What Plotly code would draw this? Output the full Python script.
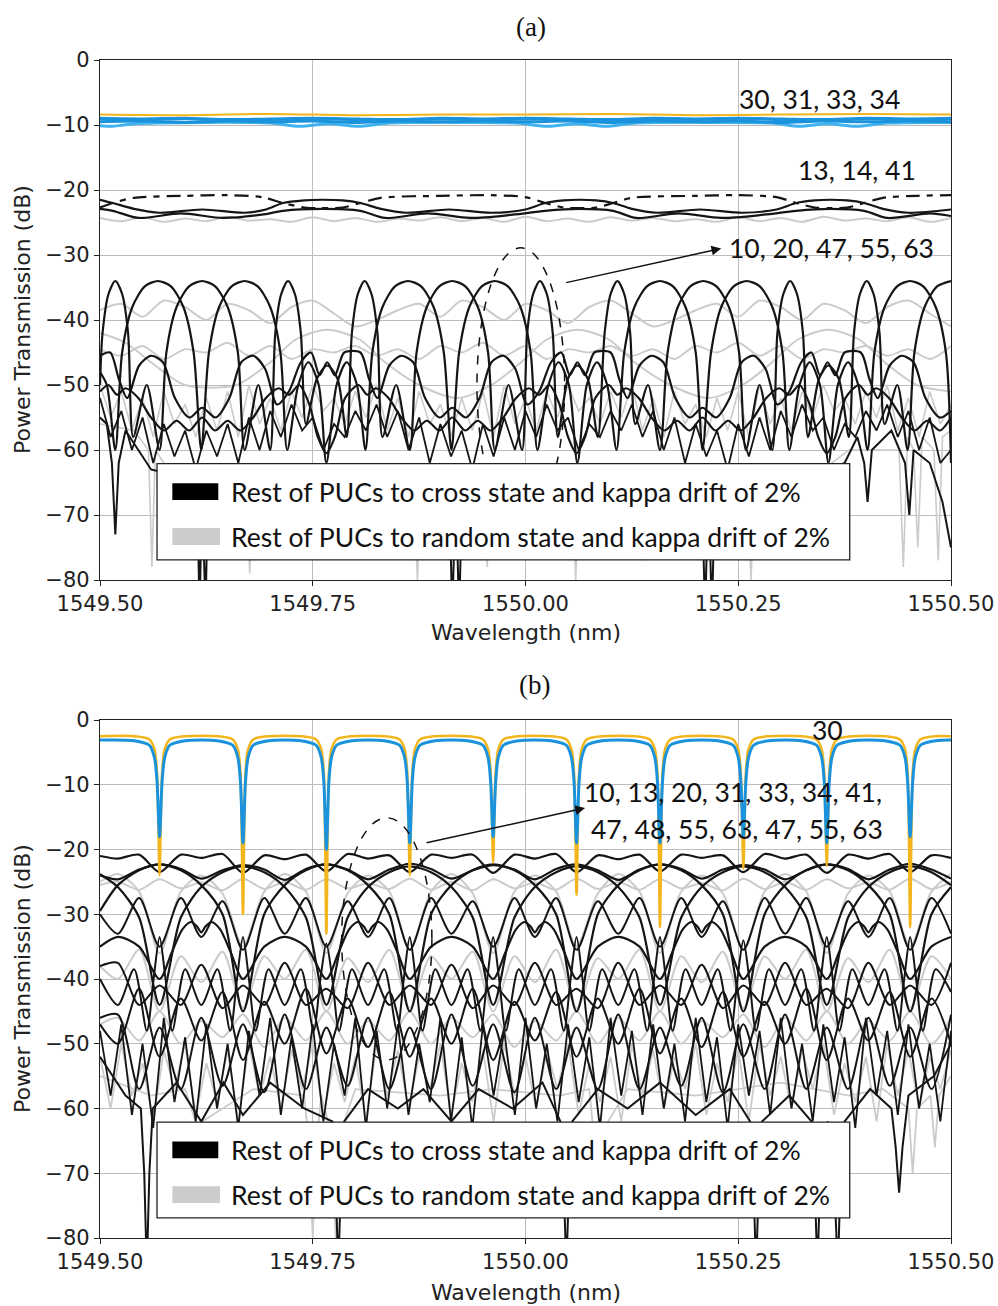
import plotly.graph_objects as go

# ---------------- shared wavelength grids (nm) ----------------
WL_Q_A = [1549.500, 1549.525, 1549.550, 1549.575, 1549.600, 1549.625, 1549.650, 1549.675, 1549.700, 1549.725,
          1549.750, 1549.775, 1549.800, 1549.825, 1549.850, 1549.875, 1549.900, 1549.925, 1549.950, 1549.975,
          1550.000, 1550.025, 1550.050, 1550.075, 1550.100, 1550.125, 1550.150, 1550.175, 1550.200, 1550.225,
          1550.250, 1550.275, 1550.300, 1550.325, 1550.350, 1550.375, 1550.400, 1550.425, 1550.450, 1550.475,
          1550.500]

WL_FINE = [1549.5000, 1549.5125, 1549.5250, 1549.5375, 1549.5500, 1549.5625, 1549.5750, 1549.5875, 1549.6000, 1549.6125,
           1549.6250, 1549.6375, 1549.6500, 1549.6625, 1549.6750, 1549.6875, 1549.7000, 1549.7125, 1549.7250, 1549.7375,
           1549.7500, 1549.7625, 1549.7750, 1549.7875, 1549.8000, 1549.8125, 1549.8250, 1549.8375, 1549.8500, 1549.8625,
           1549.8750, 1549.8875, 1549.9000, 1549.9125, 1549.9250, 1549.9375, 1549.9500, 1549.9625, 1549.9750, 1549.9875,
           1550.0000, 1550.0125, 1550.0250, 1550.0375, 1550.0500, 1550.0625, 1550.0750, 1550.0875, 1550.1000, 1550.1125,
           1550.1250, 1550.1375, 1550.1500, 1550.1625, 1550.1750, 1550.1875, 1550.2000, 1550.2125, 1550.2250, 1550.2375,
           1550.2500, 1550.2625, 1550.2750, 1550.2875, 1550.3000, 1550.3125, 1550.3250, 1550.3375, 1550.3500, 1550.3625,
           1550.3750, 1550.3875, 1550.4000, 1550.4125, 1550.4250, 1550.4375, 1550.4500, 1550.4625, 1550.4750, 1550.4875,
           1550.5000]

WL_Q_B = [1549.500,
          1549.521, 1549.546, 1549.570, 1549.595, 1549.619, 1549.644, 1549.668, 1549.693,
          1549.717, 1549.742, 1549.766, 1549.791, 1549.815, 1549.840, 1549.864, 1549.889,
          1549.913, 1549.938, 1549.962, 1549.987, 1550.011, 1550.036, 1550.060, 1550.085,
          1550.109, 1550.134, 1550.158, 1550.183, 1550.207, 1550.232, 1550.256, 1550.281,
          1550.305, 1550.330, 1550.354, 1550.379, 1550.403, 1550.428, 1550.452, 1550.477,
          1550.500]

X_TICKS = [1549.50, 1549.75, 1550.00, 1550.25, 1550.50]
Y_TICKS = [0, -10, -20, -30, -40, -50, -60, -70, -80]

# ---------------- panel (a) ----------------
A_YEL_X = [1549.50, 1549.60, 1549.70, 1549.80, 1549.90, 1550.00, 1550.10, 1550.20, 1550.30, 1550.40, 1550.50]
A_YEL = [-8.4, -8.5, -8.3, -8.5, -8.4, -8.4, -8.3, -8.5, -8.4, -8.3, -8.4]

A_B1_X = [1549.50, 1549.55, 1549.60, 1549.65, 1549.70, 1549.75, 1549.80, 1549.85, 1549.90, 1549.95, 1550.00,
          1550.05, 1550.10, 1550.15, 1550.20, 1550.25, 1550.30, 1550.35, 1550.40, 1550.45, 1550.50]
A_B1 = [-9.0, -9.1, -9.0, -9.2, -9.1, -9.0, -9.1, -9.2, -9.0, -9.1, -9.0,
        -9.1, -9.2, -9.0, -9.1, -9.0, -9.1, -9.2, -9.0, -9.1, -9.0]
A_B3 = [-9.5, -9.4, -9.6, -9.4, -9.5, -9.4, -9.6, -9.4, -9.5, -9.4, -9.5,
        -9.4, -9.6, -9.4, -9.5, -9.4, -9.6, -9.4, -9.5, -9.4, -9.5]

A_B2 = [(1549.500, -10.1), (1549.515, -10.2), (1549.540, -9.8), (1549.620, -9.6), (1549.700, -9.7),
        (1549.735, -10.2), (1549.769, -9.8), (1549.803, -10.2), (1549.840, -9.7), (1549.930, -9.6),
        (1549.990, -9.7), (1550.026, -10.2), (1550.060, -9.8), (1550.094, -10.2), (1550.130, -9.7),
        (1550.220, -9.6), (1550.290, -9.7), (1550.322, -10.2), (1550.355, -9.8), (1550.388, -10.2),
        (1550.425, -9.7), (1550.500, -9.6)]

A_C1 = [(1549.500, -22.7), (1549.515, -22.0), (1549.540, -21.2), (1549.600, -20.9), (1549.650, -20.8),
        (1549.690, -21.1), (1549.715, -22.0), (1549.740, -22.7), (1549.760, -22.8), (1549.785, -22.7),
        (1549.806, -22.0), (1549.830, -21.2), (1549.900, -20.9), (1549.960, -20.8), (1550.000, -21.1),
        (1550.023, -22.0), (1550.045, -22.7), (1550.063, -22.8), (1550.083, -22.7), (1550.103, -22.0),
        (1550.125, -21.2), (1550.200, -20.9), (1550.250, -20.8), (1550.295, -21.1), (1550.318, -22.0),
        (1550.340, -22.7), (1550.358, -22.8), (1550.378, -22.7), (1550.398, -22.0), (1550.420, -21.2),
        (1550.460, -20.9), (1550.500, -20.8)]

A_C2 = [(1549.500, -21.5), (1549.515, -22.0), (1549.540, -22.9), (1549.570, -23.5), (1549.620, -23.0),
        (1549.670, -23.5), (1549.695, -23.0), (1549.715, -22.0), (1549.740, -21.6), (1549.760, -21.5),
        (1549.785, -21.6), (1549.806, -22.0), (1549.830, -22.9), (1549.860, -23.5), (1549.910, -23.0),
        (1549.960, -23.5), (1550.000, -23.0), (1550.023, -22.0), (1550.045, -21.6), (1550.063, -21.5),
        (1550.083, -21.6), (1550.103, -22.0), (1550.125, -22.9), (1550.155, -23.5), (1550.205, -23.0),
        (1550.255, -23.5), (1550.295, -23.0), (1550.318, -22.0), (1550.340, -21.6), (1550.358, -21.5),
        (1550.378, -21.6), (1550.398, -22.0), (1550.420, -22.9), (1550.450, -23.5), (1550.500, -23.0)]

A_C3 = [(1549.500, -22.9), (1549.515, -23.2), (1549.545, -24.3), (1549.595, -23.6), (1549.645, -24.3),
        (1549.690, -23.8), (1549.715, -23.2), (1549.760, -22.9), (1549.806, -23.2), (1549.835, -24.3),
        (1549.885, -23.6), (1549.935, -24.3), (1549.985, -23.8), (1550.023, -23.2), (1550.063, -22.9),
        (1550.103, -23.2), (1550.130, -24.3), (1550.180, -23.6), (1550.230, -24.3), (1550.280, -23.8),
        (1550.318, -23.2), (1550.358, -22.9), (1550.398, -23.2), (1550.425, -24.3), (1550.475, -23.6),
        (1550.500, -24.0)]

A_G0 = [-24.3, -24.8, -24.2, -24.9, -24.4, -24.8, -24.1, -24.7, -24.5, -24.9,
        -24.2, -24.8, -24.3, -24.9, -24.4, -24.7, -24.2, -24.8, -24.3, -24.9,
        -24.1, -24.8, -24.4, -24.9, -24.2, -24.7, -24.3, -24.8, -24.5, -24.9,
        -24.2, -24.8, -24.3, -24.9, -24.1, -24.7, -24.4, -24.8, -24.2, -24.9,
        -24.3]

A_G1 = [-38.5, -37.5, -39.5, -37.0, -38.0, -40.0, -37.5, -38.5, -40.5, -38.0,
        -37.0, -39.0, -41.0, -40.0, -38.5, -37.5, -39.5, -37.0, -38.0, -40.0,
        -37.5, -38.5, -40.5, -38.0, -37.0, -39.0, -41.0, -40.0, -38.5, -37.5,
        -39.5, -37.0, -38.0, -40.0, -37.5, -38.5, -40.5, -38.0, -37.0, -39.0,
        -41.0]

A_G3 = [-44.5, -45.5, -44.0, -46.0, -44.5, -45.0, -43.5, -45.5, -44.0, -46.0,
        -44.5, -45.0, -44.0, -45.5, -44.5, -46.0, -44.0, -45.0, -43.5, -45.5,
        -44.0, -46.0, -44.5, -45.0, -44.0, -45.5, -44.5, -46.0, -44.0, -45.0,
        -43.5, -45.5, -44.0, -46.0, -44.5, -45.0, -44.0, -45.5, -44.5, -46.0,
        -44.0]

A_G2 = [(1549.500, -42.0), (1549.530, -43.5), (1549.560, -46.5), (1549.600, -50.0), (1549.660, -50.0),
        (1549.700, -46.5), (1549.730, -43.0), (1549.767, -41.5), (1549.805, -43.0), (1549.835, -46.5),
        (1549.875, -50.0), (1549.920, -52.0), (1549.960, -50.0), (1549.995, -46.5), (1550.025, -43.0),
        (1550.061, -41.5), (1550.098, -43.0), (1550.128, -46.5), (1550.170, -50.0), (1550.215, -52.0),
        (1550.255, -50.0), (1550.290, -46.5), (1550.320, -43.0), (1550.356, -41.5), (1550.392, -43.0),
        (1550.422, -46.5), (1550.460, -50.0), (1550.500, -51.0)]

A_G4 = [(1549.500, -56), (1549.540, -57), (1549.557, -60), (1549.561, -78), (1549.565, -60), (1549.575, -62),
        (1549.580, -76), (1549.585, -63), (1549.620, -64), (1549.671, -63), (1549.676, -79), (1549.681, -63),
        (1549.715, -63), (1549.720, -76), (1549.725, -63), (1549.800, -64), (1549.868, -63), (1549.873, -80),
        (1549.878, -63), (1549.950, -63), (1549.955, -78), (1549.960, -63), (1549.992, -63), (1549.997, -72),
        (1550.002, -63), (1550.054, -63), (1550.059, -80), (1550.064, -63), (1550.100, -64), (1550.136, -63),
        (1550.141, -77), (1550.146, -63), (1550.162, -63), (1550.167, -74), (1550.172, -63), (1550.260, -63),
        (1550.265, -80), (1550.270, -63), (1550.350, -63), (1550.380, -60), (1550.439, -60), (1550.444, -78),
        (1550.449, -58), (1550.456, -60), (1550.461, -75), (1550.466, -58), (1550.480, -60), (1550.485, -77),
        (1550.490, -58), (1550.500, -57)]

A_G5 = [-50, -55, -51, -57, -52, -58, -51, -56, -53, -58,
        -52, -57, -51, -58, -50, -56, -52, -57, -51, -55,
        -50, -54, -52, -56, -51, -55, -50, -57, -52, -58,
        -51, -56, -53, -58, -52, -57, -51, -58, -50, -56,
        -52, -57, -51, -55, -50, -54, -52, -56, -51, -55,
        -50, -57, -52, -58, -51, -56, -53, -58, -52, -57,
        -51, -58, -50, -56, -52, -57, -51, -55, -50, -54,
        -52, -56, -51, -55, -50, -57, -52, -58, -51, -56,
        -53]

A_K1 = [(1549.500, -48), (1549.508, -50), (1549.518, -60),
        (1549.526, -45), (1549.538, -38), (1549.553, -34.8), (1549.568, -34), (1549.583, -34.8), (1549.598, -38), (1549.610, -45), (1549.619, -60),
        (1549.628, -45), (1549.640, -38), (1549.655, -34.8), (1549.670, -34), (1549.685, -34.8), (1549.700, -38), (1549.712, -45), (1549.720, -60),
        (1549.733, -50), (1549.745, -46.5), (1549.757, -50), (1549.766, -62), (1549.778, -50), (1549.790, -46.5), (1549.802, -50), (1549.812, -60),
        (1549.820, -45), (1549.832, -38), (1549.847, -34.8), (1549.862, -34), (1549.877, -34.8), (1549.892, -38), (1549.904, -45), (1549.913, -60),
        (1549.922, -45), (1549.934, -38), (1549.949, -34.8), (1549.964, -34), (1549.979, -34.8), (1549.994, -38), (1550.006, -45), (1550.014, -60),
        (1550.027, -50), (1550.039, -46.5), (1550.051, -50), (1550.061, -62), (1550.072, -50), (1550.084, -46.5), (1550.096, -50), (1550.107, -60),
        (1550.116, -45), (1550.128, -38), (1550.143, -34.8), (1550.158, -34), (1550.173, -34.8), (1550.188, -38), (1550.200, -45), (1550.208, -60),
        (1550.218, -45), (1550.230, -38), (1550.245, -34.8), (1550.260, -34), (1550.275, -34.8), (1550.290, -38), (1550.302, -45), (1550.310, -60),
        (1550.322, -50), (1550.334, -46.5), (1550.346, -50), (1550.356, -62), (1550.367, -50), (1550.379, -46.5), (1550.391, -50), (1550.402, -60),
        (1550.410, -45), (1550.422, -38), (1550.437, -34.8), (1550.452, -34), (1550.467, -34.8), (1550.482, -38), (1550.494, -45), (1550.500, -62)]

A_K2 = [(1549.500, -50), (1549.503, -42), (1549.510, -36), (1549.518, -34), (1549.526, -36), (1549.533, -42), (1549.539, -58),
        (1549.555, -50), (1549.570, -60),
        (1549.578, -45), (1549.590, -38), (1549.605, -34.8), (1549.620, -34), (1549.635, -34.8), (1549.650, -38), (1549.662, -45), (1549.670, -60),
        (1549.686, -50), (1549.700, -60),
        (1549.706, -42), (1549.713, -36), (1549.721, -34), (1549.729, -36), (1549.736, -42), (1549.742, -56),
        (1549.755, -49), (1549.767, -47), (1549.779, -49), (1549.790, -58),
        (1549.796, -42), (1549.803, -36), (1549.811, -34), (1549.819, -36), (1549.826, -42), (1549.832, -58),
        (1549.848, -50), (1549.864, -60),
        (1549.872, -45), (1549.884, -38), (1549.899, -34.8), (1549.914, -34), (1549.929, -34.8), (1549.944, -38), (1549.956, -45), (1549.964, -60),
        (1549.980, -50), (1549.996, -60),
        (1550.002, -42), (1550.009, -36), (1550.017, -34), (1550.025, -36), (1550.032, -42), (1550.038, -58),
        (1550.050, -49), (1550.061, -47), (1550.073, -49), (1550.085, -58),
        (1550.093, -42), (1550.100, -36), (1550.108, -34), (1550.116, -36), (1550.123, -42), (1550.129, -56),
        (1550.144, -50), (1550.158, -60),
        (1550.167, -45), (1550.179, -38), (1550.194, -34.8), (1550.209, -34), (1550.224, -34.8), (1550.239, -38), (1550.251, -45), (1550.259, -60),
        (1550.275, -50), (1550.290, -60),
        (1550.296, -42), (1550.303, -36), (1550.311, -34), (1550.319, -36), (1550.326, -42), (1550.332, -58),
        (1550.345, -49), (1550.356, -47), (1550.368, -49), (1550.380, -58),
        (1550.386, -42), (1550.393, -36), (1550.401, -34), (1550.409, -36), (1550.416, -42), (1550.422, -56),
        (1550.437, -50), (1550.449, -60),
        (1550.457, -45), (1550.469, -38), (1550.484, -34.8), (1550.500, -34)]

A_M1 = [(1549.500, -45.5), (1549.512, -45.0), (1549.522, -49.0), (1549.532, -52.0), (1549.546, -47.0), (1549.560, -45.5),
        (1549.574, -46.5), (1549.588, -52.0), (1549.605, -55.0), (1549.620, -53.5), (1549.636, -55.0), (1549.652, -52.0),
        (1549.666, -46.5), (1549.680, -45.5), (1549.694, -47.5), (1549.708, -53.0), (1549.722, -51.0), (1549.736, -46.5),
        (1549.748, -45.0), (1549.758, -48.5), (1549.767, -46.5), (1549.776, -48.5), (1549.787, -45.0),
        (1549.806, -45.0), (1549.816, -49.0), (1549.826, -52.0), (1549.840, -47.0), (1549.854, -45.5),
        (1549.868, -46.5), (1549.882, -52.0), (1549.899, -55.0), (1549.914, -53.5), (1549.930, -55.0), (1549.946, -52.0),
        (1549.960, -46.5), (1549.974, -45.5), (1549.988, -47.5), (1550.002, -53.0), (1550.016, -51.0), (1550.030, -46.5),
        (1550.042, -45.0), (1550.052, -48.5), (1550.061, -46.5), (1550.070, -48.5), (1550.081, -45.0),
        (1550.100, -45.0), (1550.110, -49.0), (1550.120, -52.0), (1550.134, -47.0), (1550.148, -45.5),
        (1550.162, -46.5), (1550.176, -52.0), (1550.193, -55.0), (1550.208, -53.5), (1550.224, -55.0), (1550.240, -52.0),
        (1550.254, -46.5), (1550.268, -45.5), (1550.282, -47.5), (1550.296, -53.0), (1550.310, -51.0), (1550.324, -46.5),
        (1550.336, -45.0), (1550.346, -48.5), (1550.355, -46.5), (1550.364, -48.5), (1550.375, -45.0),
        (1550.394, -45.0), (1550.404, -49.0), (1550.414, -52.0), (1550.428, -47.0), (1550.442, -45.5),
        (1550.456, -46.5), (1550.470, -52.0), (1550.487, -55.0), (1550.500, -54.0)]

A_M2 = [(1549.500, -51.0), (1549.510, -50.0), (1549.520, -51.5), (1549.530, -50.5), (1549.545, -52.0), (1549.560, -55.0),
        (1549.575, -57.0), (1549.590, -55.5), (1549.605, -57.0), (1549.620, -55.0), (1549.635, -57.0), (1549.650, -55.5),
        (1549.665, -57.0), (1549.680, -55.0), (1549.695, -52.0), (1549.710, -50.5), (1549.722, -51.5), (1549.734, -50.0),
        (1549.746, -53.0), (1549.756, -58.0), (1549.766, -60.5), (1549.776, -58.0), (1549.788, -52.0),
        (1549.804, -50.0), (1549.814, -51.5), (1549.824, -50.5), (1549.839, -52.0), (1549.854, -55.0),
        (1549.869, -57.0), (1549.884, -55.5), (1549.899, -57.0), (1549.914, -55.0), (1549.929, -57.0), (1549.944, -55.5),
        (1549.959, -57.0), (1549.974, -55.0), (1549.989, -52.0), (1550.004, -50.5), (1550.016, -51.5), (1550.028, -50.0),
        (1550.040, -53.0), (1550.050, -58.0), (1550.060, -60.5), (1550.070, -58.0), (1550.082, -52.0),
        (1550.098, -50.0), (1550.108, -51.5), (1550.118, -50.5), (1550.133, -52.0), (1550.148, -55.0),
        (1550.163, -57.0), (1550.178, -55.5), (1550.193, -57.0), (1550.208, -55.0), (1550.223, -57.0), (1550.238, -55.5),
        (1550.253, -57.0), (1550.268, -55.0), (1550.283, -52.0), (1550.298, -50.5), (1550.310, -51.5), (1550.322, -50.0),
        (1550.334, -53.0), (1550.344, -58.0), (1550.354, -60.5), (1550.364, -58.0), (1550.376, -52.0),
        (1550.392, -50.0), (1550.402, -51.5), (1550.412, -50.5), (1550.427, -52.0), (1550.442, -55.0),
        (1550.457, -57.0), (1550.472, -55.5), (1550.487, -57.0), (1550.500, -55.0)]

A_M3 = [-52, -58, -54, -60, -55, -62, -56, -61, -57, -63,
        -57, -61, -56, -62, -55, -60, -54, -58, -53, -57,
        -55, -60, -56, -58, -54, -57, -53, -58, -54, -60,
        -55, -62, -56, -61, -57, -63, -56, -61, -55, -60,
        -54, -58, -53, -57, -55, -60, -56, -58, -54, -57,
        -53, -58, -54, -60, -55, -62, -56, -61, -57, -63,
        -56, -61, -55, -60, -54, -58, -53, -57, -55, -60,
        -56, -58, -54, -57, -53, -58, -54, -60, -55, -62,
        -60]

A_S1 = [(1549.500, -55), (1549.508, -56), (1549.514, -62), (1549.518, -73), (1549.522, -62), (1549.530, -57),
        (1549.560, -63), (1549.590, -64), (1549.608, -64), (1549.614, -65), (1549.617, -85), (1549.620, -66),
        (1549.624, -85), (1549.627, -65), (1549.632, -64), (1549.650, -65), (1549.690, -64), (1549.740, -65),
        (1549.800, -64), (1549.860, -64), (1549.900, -64), (1549.910, -65), (1549.914, -85), (1549.918, -66),
        (1549.922, -85), (1549.926, -65), (1549.935, -64), (1549.970, -65), (1550.030, -64), (1550.100, -64),
        (1550.160, -65), (1550.198, -64), (1550.207, -65), (1550.211, -85), (1550.215, -66), (1550.219, -85),
        (1550.223, -65), (1550.232, -64), (1550.280, -64), (1550.340, -64), (1550.375, -62), (1550.390, -58),
        (1550.398, -62), (1550.402, -68), (1550.407, -60), (1550.430, -57), (1550.446, -62), (1550.451, -70),
        (1550.456, -60), (1550.475, -62), (1550.490, -68), (1550.500, -75)]

# ---------------- panel (b) ----------------
B_BLUE = [(1549.500, -3.1),
          (1549.540, -3.2), (1549.558, -3.9), (1549.564, -5.8), (1549.567, -9.5), (1549.570, -18.0), (1549.573, -9.5), (1549.576, -5.8), (1549.582, -3.9), (1549.600, -3.2),
          (1549.638, -3.2), (1549.656, -3.9), (1549.662, -5.8), (1549.665, -9.5), (1549.668, -19.0), (1549.671, -9.5), (1549.674, -5.8), (1549.680, -3.9), (1549.698, -3.2),
          (1549.736, -3.2), (1549.754, -3.9), (1549.760, -5.8), (1549.763, -9.5), (1549.766, -20.0), (1549.769, -9.5), (1549.772, -5.8), (1549.778, -3.9), (1549.796, -3.2),
          (1549.834, -3.2), (1549.852, -3.9), (1549.858, -5.8), (1549.861, -9.5), (1549.864, -19.0), (1549.867, -9.5), (1549.870, -5.8), (1549.876, -3.9), (1549.894, -3.2),
          (1549.932, -3.2), (1549.950, -3.9), (1549.956, -5.8), (1549.959, -9.5), (1549.962, -18.0), (1549.965, -9.5), (1549.968, -5.8), (1549.974, -3.9), (1549.992, -3.2),
          (1550.030, -3.2), (1550.048, -3.9), (1550.054, -5.8), (1550.057, -9.5), (1550.060, -19.0), (1550.063, -9.5), (1550.066, -5.8), (1550.072, -3.9), (1550.090, -3.2),
          (1550.128, -3.2), (1550.146, -3.9), (1550.152, -5.8), (1550.155, -9.5), (1550.158, -19.0), (1550.161, -9.5), (1550.164, -5.8), (1550.170, -3.9), (1550.188, -3.2),
          (1550.226, -3.2), (1550.244, -3.9), (1550.250, -5.8), (1550.253, -9.5), (1550.256, -18.0), (1550.259, -9.5), (1550.262, -5.8), (1550.268, -3.9), (1550.286, -3.2),
          (1550.324, -3.2), (1550.342, -3.9), (1550.348, -5.8), (1550.351, -9.5), (1550.354, -19.0), (1550.357, -9.5), (1550.360, -5.8), (1550.366, -3.9), (1550.384, -3.2),
          (1550.422, -3.2), (1550.440, -3.9), (1550.446, -5.8), (1550.449, -9.5), (1550.452, -18.0), (1550.455, -9.5), (1550.458, -5.8), (1550.464, -3.9), (1550.482, -3.2),
          (1550.500, -3.1)]

B_YEL = [(1549.500, -2.5),
         (1549.540, -2.5), (1549.558, -3.0), (1549.564, -4.5), (1549.567, -8.0), (1549.570, -24.0), (1549.573, -8.0), (1549.576, -4.5), (1549.582, -3.0), (1549.600, -2.5),
         (1549.638, -2.5), (1549.656, -3.0), (1549.662, -4.5), (1549.665, -8.0), (1549.668, -30.0), (1549.671, -8.0), (1549.674, -4.5), (1549.680, -3.0), (1549.698, -2.5),
         (1549.736, -2.5), (1549.754, -3.0), (1549.760, -4.5), (1549.763, -8.0), (1549.766, -33.0), (1549.769, -8.0), (1549.772, -4.5), (1549.778, -3.0), (1549.796, -2.5),
         (1549.834, -2.5), (1549.852, -3.0), (1549.858, -4.5), (1549.861, -8.0), (1549.864, -24.0), (1549.867, -8.0), (1549.870, -4.5), (1549.876, -3.0), (1549.894, -2.5),
         (1549.932, -2.5), (1549.950, -3.0), (1549.956, -4.5), (1549.959, -8.0), (1549.962, -22.0), (1549.965, -8.0), (1549.968, -4.5), (1549.974, -3.0), (1549.992, -2.5),
         (1550.030, -2.5), (1550.048, -3.0), (1550.054, -4.5), (1550.057, -8.0), (1550.060, -27.0), (1550.063, -8.0), (1550.066, -4.5), (1550.072, -3.0), (1550.090, -2.5),
         (1550.128, -2.5), (1550.146, -3.0), (1550.152, -4.5), (1550.155, -8.0), (1550.158, -32.0), (1550.161, -8.0), (1550.164, -4.5), (1550.170, -3.0), (1550.188, -2.5),
         (1550.226, -2.5), (1550.244, -3.0), (1550.250, -4.5), (1550.253, -8.0), (1550.256, -23.0), (1550.259, -8.0), (1550.262, -4.5), (1550.268, -3.0), (1550.286, -2.5),
         (1550.324, -2.5), (1550.342, -3.0), (1550.348, -4.5), (1550.351, -8.0), (1550.354, -22.5), (1550.357, -8.0), (1550.360, -4.5), (1550.366, -3.0), (1550.384, -2.5),
         (1550.422, -2.5), (1550.440, -3.0), (1550.446, -4.5), (1550.449, -8.0), (1550.452, -32.0), (1550.455, -8.0), (1550.458, -4.5), (1550.464, -3.0), (1550.482, -2.5),
         (1550.500, -2.5)]

B_E1 = [-21.0,
        -21.4, -20.8, -23.5, -20.8, -21.3, -20.7, -23.6, -20.9, -21.5, -20.8, -23.4, -20.7,
        -21.4, -20.9, -23.5, -20.8, -21.3, -20.8, -23.6, -20.8, -21.4, -20.7, -23.5, -20.9,
        -21.5, -20.8, -23.4, -20.8, -21.3, -20.9, -23.5, -20.7, -21.4, -20.8, -23.6, -20.8,
        -21.4, -20.7, -23.5, -20.9,
        -21.3]
B_E2 = [-24.0,
        -24.6, -23.1, -22.3, -23.0, -24.5, -23.2, -22.4, -23.1, -24.7, -23.0, -22.3, -23.1,
        -24.6, -23.1, -22.2, -23.0, -24.5, -23.2, -22.4, -23.1, -24.6, -23.0, -22.3, -23.2,
        -24.7, -23.1, -22.3, -23.0, -24.5, -23.1, -22.4, -23.1, -24.6, -23.2, -22.3, -23.0,
        -24.6, -23.1, -22.2, -23.1,
        -24.5]
B_E3 = [-29.5,
        -25.5, -23.2, -22.3, -23.2, -25.5, -30.0, -45.0, -30.0, -25.5, -23.2, -22.3, -23.2,
        -25.5, -30.0, -45.0, -30.0, -25.5, -23.2, -22.3, -23.2, -25.5, -30.0, -45.0, -30.0,
        -25.5, -23.2, -22.3, -23.2, -25.5, -30.0, -45.0, -30.0, -25.5, -23.2, -22.3, -23.2,
        -25.5, -30.0, -45.0, -30.0,
        -25.8]
B_E3B = [-23.8,
         -25.8, -30.5, -44.0, -30.5, -25.8, -23.5, -22.6, -23.5, -25.8, -30.5, -44.0, -30.5,
         -25.8, -23.5, -22.6, -23.5, -25.8, -30.5, -44.0, -30.5, -25.8, -23.5, -22.6, -23.5,
         -25.8, -30.5, -44.0, -30.5, -25.8, -23.5, -22.6, -23.5, -25.8, -30.5, -44.0, -30.5,
         -25.8, -23.5, -22.6, -23.5,
         -25.5]
B_E4 = [-30.0,
        -33.0, -27.5, -35.0, -27.5, -33.5, -28.0, -35.5, -27.5, -33.0, -27.5, -35.0, -28.0,
        -33.5, -27.5, -35.5, -27.5, -33.0, -28.0, -35.0, -27.5, -33.5, -27.5, -35.5, -28.0,
        -33.0, -27.5, -35.0, -27.5, -33.5, -28.0, -35.5, -27.5, -33.0, -27.5, -35.0, -28.0,
        -33.5, -27.5, -35.5, -27.5,
        -33.0]
B_E7 = [-47.0,
        -50.0, -41.5, -52.0, -43.0, -49.5, -42.0, -52.5, -43.5, -50.0, -41.5, -51.5, -43.0,
        -50.5, -42.0, -52.0, -43.0, -50.0, -41.5, -52.5, -43.5, -49.5, -42.0, -52.0, -43.0,
        -50.0, -41.5, -51.5, -43.0, -50.5, -42.0, -52.0, -43.5, -50.0, -41.5, -52.5, -43.0,
        -49.5, -42.0, -52.0, -43.0,
        -50.0]
B_E8 = [-46.0,
        -45.5, -57.0, -47.5, -57.0, -46.0, -56.5, -47.0, -57.5, -45.5, -57.0, -47.5, -56.5,
        -46.0, -57.0, -47.5, -57.0, -45.5, -56.5, -47.0, -57.5, -46.0, -57.0, -47.5, -57.0,
        -45.5, -57.0, -47.5, -56.5, -46.0, -57.5, -47.0, -57.0, -45.5, -57.0, -47.5, -57.0,
        -46.0, -56.5, -47.5, -57.0,
        -45.5]
B_E9 = [-38.0,
        -37.5, -44.0, -41.0, -44.0, -37.8, -44.5, -41.0, -44.0, -37.5, -44.0, -41.5, -44.5,
        -37.5, -44.0, -41.0, -44.0, -37.8, -44.5, -41.0, -44.0, -37.5, -44.0, -41.5, -44.5,
        -37.5, -44.0, -41.0, -44.0, -37.8, -44.5, -41.0, -44.0, -37.5, -44.0, -41.5, -44.5,
        -37.5, -44.0, -41.0, -44.0,
        -37.5]

B_G1 = [-25.0,
        -23.8, -26.5, -36.0, -26.5, -24.0, -26.8, -35.0, -26.5, -23.8, -26.5, -36.0, -26.8,
        -24.0, -26.5, -35.5, -26.5, -23.8, -26.8, -36.0, -26.5, -24.0, -26.5, -35.0, -26.8,
        -23.8, -26.5, -36.0, -26.5, -24.0, -26.8, -35.5, -26.5, -23.8, -26.5, -36.0, -26.8,
        -24.0, -26.5, -35.0, -26.5,
        -23.8]
B_G2 = [-25.5,
        -25.0, -26.2, -24.6, -26.0, -25.1, -26.3, -24.5, -26.1, -25.0, -26.2, -24.6, -26.0,
        -25.2, -26.1, -24.5, -26.2, -25.0, -26.3, -24.6, -26.0, -25.1, -26.2, -24.5, -26.1,
        -25.0, -26.2, -24.6, -26.0, -25.2, -26.3, -24.5, -26.1, -25.0, -26.2, -24.6, -26.0,
        -25.1, -26.2, -24.5, -26.1,
        -25.0]
B_G3 = [-38.0,
        -40.0, -35.5, -45.0, -36.5, -40.5, -35.8, -44.5, -36.5, -40.0, -35.5, -45.0, -36.8,
        -40.5, -35.5, -44.5, -36.5, -40.0, -35.8, -45.0, -36.5, -40.5, -35.5, -44.5, -36.8,
        -40.0, -35.5, -45.0, -36.5, -40.5, -35.8, -44.5, -36.5, -40.0, -35.5, -45.0, -36.8,
        -40.5, -35.5, -44.5, -36.5,
        -40.0]
B_G4 = [-47.0,
        -46.0, -49.5, -45.0, -50.0, -46.5, -49.0, -45.5, -50.5, -46.0, -49.5, -45.0, -50.0,
        -46.5, -49.5, -45.0, -50.0, -46.0, -49.0, -45.5, -50.5, -46.5, -49.5, -45.0, -50.0,
        -46.0, -49.5, -45.0, -50.0, -46.5, -49.0, -45.5, -50.5, -46.0, -49.5, -45.0, -50.0,
        -46.5, -49.5, -45.0, -50.0,
        -46.0]

B_G5 = [-52, -60, -50, -58, -53, -62, -51, -57, -50, -61,
        -53, -59, -51, -62, -50, -58, -52, -60, -51, -57,
        -50, -61, -53, -59, -52, -62, -50, -58, -51, -60,
        -52, -57, -50, -61, -53, -59, -51, -62, -50, -58,
        -52, -60, -51, -57, -50, -61, -53, -59, -52, -62,
        -50, -58, -51, -60, -52, -57, -50, -61, -53, -59,
        -51, -62, -50, -58, -52, -60, -51, -57, -50, -61,
        -53, -59, -52, -62, -50, -58, -51, -60, -52, -57,
        -51]

B_S2 = [-48, -58, -47, -61, -50, -63, -46, -59, -49, -62,
        -47, -60, -50, -63, -48, -58, -46, -61, -49, -60,
        -47, -62, -50, -58, -46, -63, -48, -60, -47, -61,
        -50, -59, -46, -62, -49, -63, -47, -58, -48, -61,
        -46, -60, -50, -62, -47, -59, -49, -63, -46, -58,
        -48, -61, -47, -60, -50, -62, -46, -59, -49, -63,
        -47, -58, -48, -61, -46, -60, -50, -62, -47, -59,
        -49, -63, -46, -58, -48, -61, -47, -60, -50, -62,
        -48]

B_E5 = [(1549.500, -35.0), (1549.521, -33.5), (1549.546, -35.0),
        (1549.570, -40.0), (1549.584, -36.0), (1549.597, -32.3), (1549.607, -31.2), (1549.614, -31.9), (1549.619, -32.8), (1549.624, -31.9), (1549.631, -31.2), (1549.641, -32.3), (1549.654, -36.0), (1549.668, -40.0), (1549.693, -35.0), (1549.717, -33.5), (1549.742, -35.0),
        (1549.766, -40.0), (1549.780, -36.0), (1549.793, -32.3), (1549.803, -31.2), (1549.810, -31.9), (1549.815, -32.8), (1549.820, -31.9), (1549.827, -31.2), (1549.837, -32.3), (1549.850, -36.0), (1549.864, -40.0), (1549.889, -35.0), (1549.913, -33.5), (1549.938, -35.0),
        (1549.962, -40.0), (1549.976, -36.0), (1549.989, -32.3), (1549.999, -31.2), (1550.006, -31.9), (1550.011, -32.8), (1550.016, -31.9), (1550.023, -31.2), (1550.033, -32.3), (1550.046, -36.0), (1550.060, -40.0), (1550.085, -35.0), (1550.109, -33.5), (1550.134, -35.0),
        (1550.158, -40.0), (1550.172, -36.0), (1550.185, -32.3), (1550.195, -31.2), (1550.202, -31.9), (1550.207, -32.8), (1550.212, -31.9), (1550.219, -31.2), (1550.229, -32.3), (1550.242, -36.0), (1550.256, -40.0), (1550.281, -35.0), (1550.305, -33.5), (1550.330, -35.0),
        (1550.354, -40.0), (1550.368, -36.0), (1550.381, -32.3), (1550.391, -31.2), (1550.398, -31.9), (1550.403, -32.8), (1550.408, -31.9), (1550.415, -31.2), (1550.425, -32.3), (1550.438, -36.0), (1550.452, -40.0), (1550.477, -35.0), (1550.500, -33.5)]

B_E6 = [(1549.500, -40.0), (1549.521, -44.0), (1549.540, -38.5),
        (1549.555, -48.0), (1549.563, -40.0), (1549.570, -33.5), (1549.577, -40.0), (1549.585, -48.0), (1549.600, -38.5), (1549.619, -44.0), (1549.638, -38.5),
        (1549.653, -48.0), (1549.661, -40.0), (1549.668, -33.5), (1549.675, -40.0), (1549.683, -48.0), (1549.698, -38.5), (1549.717, -44.0), (1549.736, -38.5),
        (1549.751, -48.0), (1549.759, -40.0), (1549.766, -34.5), (1549.773, -40.0), (1549.781, -48.0), (1549.796, -38.5), (1549.815, -44.0), (1549.834, -38.5),
        (1549.849, -48.0), (1549.857, -40.0), (1549.864, -33.5), (1549.871, -40.0), (1549.879, -48.0), (1549.894, -38.5), (1549.913, -44.0), (1549.932, -38.5),
        (1549.947, -48.0), (1549.955, -40.0), (1549.962, -33.5), (1549.969, -40.0), (1549.977, -48.0), (1549.992, -38.5), (1550.011, -44.0), (1550.030, -38.5),
        (1550.045, -48.0), (1550.053, -40.0), (1550.060, -33.5), (1550.067, -40.0), (1550.075, -48.0), (1550.090, -38.5), (1550.109, -44.0), (1550.128, -38.5),
        (1550.143, -48.0), (1550.151, -40.0), (1550.158, -33.5), (1550.165, -40.0), (1550.173, -48.0), (1550.188, -38.5), (1550.207, -44.0), (1550.226, -38.5),
        (1550.241, -48.0), (1550.249, -40.0), (1550.256, -34.0), (1550.263, -40.0), (1550.271, -48.0), (1550.286, -38.5), (1550.305, -44.0), (1550.324, -38.5),
        (1550.339, -48.0), (1550.347, -40.0), (1550.354, -33.5), (1550.361, -40.0), (1550.369, -48.0), (1550.384, -38.5), (1550.403, -44.0), (1550.422, -38.5),
        (1550.437, -48.0), (1550.445, -40.0), (1550.452, -33.5), (1550.459, -40.0), (1550.467, -48.0), (1550.482, -38.5), (1550.500, -42.0)]

B_S1 = [(1549.500, -52), (1549.530, -58), (1549.548, -60), (1549.552, -70), (1549.555, -85), (1549.558, -70),
        (1549.562, -60), (1549.590, -56), (1549.619, -62), (1549.645, -56), (1549.668, -61), (1549.700, -56),
        (1549.740, -60), (1549.773, -62), (1549.777, -72), (1549.780, -85), (1549.783, -72), (1549.787, -62),
        (1549.815, -57), (1549.850, -60), (1549.880, -57), (1549.913, -62), (1549.945, -57), (1549.985, -60),
        (1550.020, -56), (1550.041, -62), (1550.045, -72), (1550.048, -85), (1550.051, -72), (1550.055, -62),
        (1550.085, -57), (1550.120, -60), (1550.158, -56), (1550.200, -61), (1550.240, -57), (1550.264, -62),
        (1550.268, -72), (1550.271, -85), (1550.274, -72), (1550.278, -62), (1550.310, -58), (1550.336, -62),
        (1550.340, -72), (1550.343, -85), (1550.346, -72), (1550.355, -62), (1550.363, -72), (1550.367, -85),
        (1550.370, -72), (1550.375, -62), (1550.405, -57), (1550.430, -60), (1550.435, -66), (1550.439, -73),
        (1550.443, -66), (1550.450, -58), (1550.480, -55), (1550.500, -50)]

B_G6 = [(1549.500, -55), (1549.560, -58), (1549.600, -57), (1549.612, -62), (1549.616, -70), (1549.620, -62),
        (1549.680, -57), (1549.740, -58), (1549.746, -66), (1549.750, -80), (1549.754, -66), (1549.760, -58),
        (1549.772, -64), (1549.777, -80), (1549.782, -64), (1549.800, -57), (1549.900, -58), (1549.960, -57),
        (1550.040, -58), (1550.075, -57), (1550.080, -64), (1550.084, -72), (1550.088, -64), (1550.120, -57),
        (1550.200, -58), (1550.300, -56), (1550.380, -58), (1550.420, -57), (1550.450, -60), (1550.455, -70),
        (1550.460, -60), (1550.476, -58), (1550.481, -66), (1550.486, -58), (1550.500, -55)]

# ---------------- texts ----------------
LEGEND_LABELS = ["Rest of PUCs to cross state and kappa drift of 2%",
                 "Rest of PUCs to random state and kappa drift of 2%"]
A_LABELS = [("30, 31, 33, 34", 1550.346, -6.0), ("13, 14, 41", 1550.390, -16.9),
            ("10, 20, 47, 55, 63", 1550.359, -28.9)]
B_LABELS = [("30", 1550.355, -1.5), ("10, 13, 20, 31, 33, 34, 41,", 1550.244, -11.1),
            ("47, 48, 55, 63, 47, 55, 63", 1550.249, -16.8)]

# ---------------- styles ----------------
BLACK = "#151515"
GRAY = "#cbcbcb"
BLUE = "#1b93dc"
BLUE_L = "#3fb3f0"
YELLOW = "#f2b51c"

fig = go.Figure()


def unpack(pts):
    return [p[0] for p in pts], [p[1] for p in pts]


def add(xs, ys, color, width, panel, shape="spline", dash=None, smoothing=0.8):
    assert len(xs) == len(ys), (len(xs), len(ys))
    line = dict(color=color, width=width, shape=shape)
    if shape == "spline":
        line["smoothing"] = smoothing
    if dash:
        line["dash"] = dash
    fig.add_trace(go.Scatter(x=xs, y=ys, mode="lines", line=line,
                             xaxis="x" if panel == 1 else "x2",
                             yaxis="y" if panel == 1 else "y2",
                             hoverinfo="skip", showlegend=False))


# panel (a): gray first
add(WL_Q_A, A_G0, GRAY, 2, 1)
add(WL_Q_A, A_G1, GRAY, 2, 1)
add(*unpack(A_G2), GRAY, 2, 1)
add(WL_Q_A, A_G3, GRAY, 1.8, 1)
add(WL_FINE, A_G5, GRAY, 1.6, 1, shape="linear")
add(*unpack(A_G4), GRAY, 1.6, 1, shape="linear")
# black
add(WL_FINE, A_M3, BLACK, 1.8, 1, shape="linear")
add(*unpack(A_S1), BLACK, 2, 1, shape="linear")
add(*unpack(A_M2), BLACK, 2.2, 1)
add(*unpack(A_M1), BLACK, 2.2, 1)
add(*unpack(A_K1), BLACK, 2.2, 1)
add(*unpack(A_K2), BLACK, 2.2, 1)
add(*unpack(A_C3), BLACK, 2.2, 1)
add(*unpack(A_C2), BLACK, 2.2, 1)
add(*unpack(A_C1), BLACK, 2.2, 1, dash="14px,7px,6px,7px")
# coloured
add(*unpack(A_B2), BLUE_L, 3, 1)
add(A_B1_X, A_B3, BLUE, 3, 1)
add(A_B1_X, A_B1, BLUE, 3.5, 1)
add(A_YEL_X, A_YEL, YELLOW, 2, 1)

# panel (b): gray first
add(WL_Q_B, B_G1, GRAY, 2, 2)
add(WL_Q_B, B_G2, GRAY, 2, 2)
add(WL_Q_B, B_G3, GRAY, 2, 2)
add(WL_Q_B, B_G4, GRAY, 2, 2)
add(WL_FINE, B_G5, GRAY, 1.8, 2, shape="linear")
add(*unpack(B_G6), GRAY, 1.8, 2, shape="linear")
# black
add(WL_FINE, B_S2, BLACK, 1.8, 2, shape="linear")
add(*unpack(B_S1), BLACK, 2, 2, shape="linear")
add(WL_Q_B, B_E8, BLACK, 2, 2)
add(WL_Q_B, B_E7, BLACK, 2, 2)
add(WL_Q_B, B_E9, BLACK, 2, 2)
add(*unpack(B_E6), BLACK, 2, 2)
add(*unpack(B_E5), BLACK, 2.2, 2)
add(WL_Q_B, B_E4, BLACK, 2, 2)
add(WL_Q_B, B_E3B, BLACK, 2.2, 2)
add(WL_Q_B, B_E3, BLACK, 2.2, 2)
add(WL_Q_B, B_E2, BLACK, 2.2, 2)
add(WL_Q_B, B_E1, BLACK, 2.2, 2)
# coloured
add(*unpack(B_YEL), YELLOW, 2.5, 2)
add(*unpack(B_BLUE), BLUE, 3, 2)

# ---------------- layout ----------------
axis_common = dict(showline=True, linecolor="#222", linewidth=1.3, mirror=True,
                   ticks="outside", ticklen=5, tickcolor="#222", tickwidth=1.2,
                   showgrid=True, gridcolor="#bdbdbd", gridwidth=1.2, zeroline=False,
                   automargin=False,
                   tickfont=dict(family="DejaVu Sans", size=21, color="#222"))
X_DOM = [100 / 998, 951 / 998]
fig.update_layout(
    width=998, height=1306, margin=dict(l=0, r=0, t=0, b=0, pad=0, autoexpand=False),
    paper_bgcolor="white", plot_bgcolor="white", showlegend=False,
    xaxis=dict(domain=X_DOM, range=[1549.5, 1550.5], anchor="y", tickvals=X_TICKS,
               tickformat=".2f", **axis_common),
    yaxis=dict(domain=[1 - 580 / 1306, 1 - 60 / 1306], range=[-80, 0], anchor="x",
               tickvals=Y_TICKS, **axis_common),
    xaxis2=dict(domain=X_DOM, range=[1549.5, 1550.5], anchor="y2", tickvals=X_TICKS,
                tickformat=".2f", **axis_common),
    yaxis2=dict(domain=[1 - 1238 / 1306, 1 - 720 / 1306], range=[-80, 0], anchor="x2",
                tickvals=Y_TICKS, **axis_common),
)

shapes = []
annotations = []
TXT_FONT = dict(family="Lato", size=26.5, color="#111")

# dashed ellipses (drawn before legend boxes so the boxes cover them)
shapes.append(dict(type="circle", xref="x", yref="y", x0=1549.943, x1=1550.046, y0=-28.9, y1=-71.1,
                   line=dict(color="#111", width=1.5, dash="dash"), layer="above"))
shapes.append(dict(type="circle", xref="x2", yref="y2", x0=1549.784, x1=1549.890, y0=-15.1, y1=-52.5,
                   line=dict(color="#111", width=1.5, dash="dash"), layer="above"))

for xr, yr in (("x", "y"), ("x2", "y2")):
    # legend box
    shapes.append(dict(type="rect", xref=xr, yref=yr, x0=1549.567, x1=1550.381, y0=-62.1, y1=-76.9,
                       fillcolor="white", line=dict(color="#222", width=1.3), layer="above"))
    shapes.append(dict(type="rect", xref=xr, yref=yr, x0=1549.585, x1=1549.639, y0=-65.1, y1=-67.7,
                       fillcolor="black", line=dict(width=0), layer="above"))
    shapes.append(dict(type="rect", xref=xr, yref=yr, x0=1549.585, x1=1549.641, y0=-72.0, y1=-74.6,
                       fillcolor="#cccccc", line=dict(width=0), layer="above"))
    for lab, yy in zip(LEGEND_LABELS, (-66.4, -73.4)):
        annotations.append(dict(text=lab, xref=xr, yref=yr, x=1549.652, y=yy, xanchor="left",
                                yanchor="middle", showarrow=False, font=TXT_FONT))

for txt, xx, yy in A_LABELS:
    annotations.append(dict(text=txt, xref="x", yref="y", x=xx, y=yy, xanchor="center", yanchor="middle",
                            showarrow=False, font=TXT_FONT))
for txt, xx, yy in B_LABELS:
    annotations.append(dict(text=txt, xref="x2", yref="y2", x=xx, y=yy, xanchor="center", yanchor="middle",
                            showarrow=False, font=TXT_FONT))

# arrows
annotations.append(dict(text="", xref="x", yref="y", x=1550.230, y=-29.0, ax=1550.046, ay=-34.3,
                        axref="x", ayref="y", showarrow=True, arrowhead=2, arrowsize=1.3,
                        arrowwidth=1.5, arrowcolor="#111"))
annotations.append(dict(text="", xref="x2", yref="y2", x=1550.070, y=-13.6, ax=1549.882, ay=-19.0,
                        axref="x2", ayref="y2", showarrow=True, arrowhead=2, arrowsize=1.3,
                        arrowwidth=1.5, arrowcolor="#111"))

# panel letters and axis titles
SERIF = dict(family="Liberation Serif", size=27, color="#111")
TITLE = dict(family="DejaVu Sans", size=22, color="#222")
C = dict(xref="paper", yref="paper", xanchor="center", yanchor="middle", showarrow=False)
annotations += [
    dict(text="(a)", x=531 / 998, y=1 - 27 / 1306, font=SERIF, **C),
    dict(text="(b)", x=534 / 998, y=1 - 685 / 1306, font=SERIF, **C),
    dict(text="Power Transmission (dB)", x=22 / 998, y=1 - 320 / 1306, textangle=-90, font=TITLE, **C),
    dict(text="Power Transmission (dB)", x=22 / 998, y=1 - 979 / 1306, textangle=-90, font=TITLE, **C),
    dict(text="Wavelength (nm)", x=525.5 / 998, y=1 - 632 / 1306, font=TITLE, **C),
    dict(text="Wavelength (nm)", x=525.5 / 998, y=1 - 1292 / 1306, font=TITLE, **C),
]

fig.update_layout(shapes=shapes, annotations=annotations)
fig.write_html("out.html")
